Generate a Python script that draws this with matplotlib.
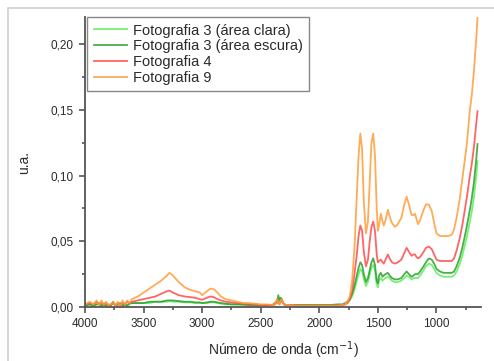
import numpy as np
import matplotlib
matplotlib.use('Agg')
import matplotlib.pyplot as plt
from matplotlib.patches import Rectangle
from matplotlib.ticker import MultipleLocator, FuncFormatter

plt.rcParams['font.family'] = ['Liberation Sans', 'DejaVu Sans']

# wavenumber grid (cm-1), shared by the four spectra
wavenumber = [4000, 3960, 3930, 3900, 3880, 3860, 3840, 3820, 3800, 3780,
              3760, 3740, 3720, 3700, 3680, 3660, 3640, 3620, 3600, 3550,
              3500, 3450, 3400, 3350, 3300, 3280, 3250, 3200, 3150, 3100,
              3060, 3020, 3000, 2960, 2930, 2900, 2870, 2840, 2800, 2750,
              2700, 2650, 2600, 2550, 2500, 2450, 2400, 2380, 2360, 2350,
              2340, 2330, 2320, 2310, 2300, 2280, 2250, 2200, 2100, 2000,
              1900, 1850, 1800, 1780, 1760, 1740, 1720, 1700, 1680, 1665,
              1650, 1635, 1620, 1602, 1585, 1570, 1555, 1540, 1525, 1510,
              1500, 1490, 1475, 1460, 1450, 1435, 1415, 1400, 1380, 1355,
              1330, 1300, 1275, 1255, 1235, 1213, 1195, 1184, 1170, 1158,
              1140, 1110, 1090, 1065, 1040, 1020, 1000, 970, 940, 900,
              870, 850, 828, 800, 780, 758, 740, 715, 700, 680,
              660, 650]

foto3_clara = [.001, .002, .001, .002, .002, .001, .002, .001, .001, .001,
               .003, .002, .001, .002, .001, .002, .001, .002, .003, .003,
               .003, .003, .004, .004, .004, .0045, .004, .004, .0035, .0035,
               .003, .003, .003, .003, .0035, .0035, .003, .0025, .002, .002,
               .002, .0015, .0015, .0015, .0015, .0015, .0015, .002, .003, .007,
               .004, .006, .005, .003, .002, .0015, .0015, .0015, .0015, .0015,
               .0015, .0015, .0015, .002, .003, .005, .008, .013, .020, .025,
               .029, .027, .021, .016, .019, .024, .030, .032, .028, .017,
               .015, .020, .022, .020, .021, .022, .023, .022, .020, .019,
               .019, .020, .022, .024, .023, .021, .022, .022, .022, .022,
               .024, .028, .031, .033, .032, .029, .026, .024, .023, .023,
               .023, .024, .027, .033, .039, .047, .054, .065, .072, .084,
               .100, .111]

foto3_escura = [.001, .002, .001, .002, .003, .001, .002, .001, .002, .001,
                .004, .001, .002, .003, .001, .002, .001, .003, .003, .003,
                .003, .004, .004, .004, .005, .005, .005, .0045, .004, .004,
                .0035, .0035, .003, .0035, .004, .004, .0035, .003, .0025, .002,
                .002, .002, .0015, .0015, .0015, .0015, .0015, .003, .004, .009,
                .005, .007, .006, .003, .002, .0015, .0015, .0015, .0015, .0015,
                .0015, .002, .002, .003, .004, .006, .010, .016, .024, .030,
                .034, .032, .025, .019, .022, .028, .034, .037, .032, .020,
                .018, .024, .026, .023, .024, .025, .026, .024, .022, .021,
                .021, .022, .025, .027, .025, .023, .024, .025, .025, .025,
                .027, .031, .034, .037, .036, .033, .029, .027, .026, .026,
                .026, .027, .031, .038, .045, .054, .062, .074, .082, .095,
                .113, .124]

foto4 = [.002, .003, .002, .004, .002, .003, .002, .003, .001, .002,
         .003, .001, .003, .001, .003, .002, .004, .003, .004, .005,
         .006, .007, .008, .010, .012, .0125, .011, .009, .008, .0075,
         .007, .006, .0055, .007, .008, .0075, .006, .005, .004, .0035,
         .003, .0025, .002, .002, .0015, .0015, .0015, .002, .005, .003,
         .002, .004, .005, .003, .002, .0015, .0015, .001, .001, .001,
         .001, .001, .0015, .002, .003, .006, .012, .025, .040, .054,
         .062, .058, .042, .031, .036, .050, .061, .065, .058, .040,
         .034, .035, .036, .034, .033, .036, .040, .037, .034, .033,
         .034, .036, .041, .045, .042, .039, .040, .040, .038, .037,
         .038, .042, .045, .046, .044, .040, .036, .035, .035, .035,
         .035, .037, .043, .053, .062, .074, .084, .100, .108, .122,
         .140, .149]

foto9 = [.002, .004, .002, .005, .001, .005, .002, .004, .001, .002,
         .004, .001, .004, .000, .005, .002, .005, .003, .006, .008,
         .011, .014, .017, .020, .024, .026, .024, .019, .015, .013,
         .012, .011, .009, .012, .014, .0135, .011, .008, .006, .005,
         .004, .003, .003, .0025, .002, .002, .0015, .002, .006, .003,
         .002, .005, .006, .003, .002, .0015, .0015, .001, .001, .001,
         .001, .001, .0015, .002, .004, .008, .020, .045, .085, .115,
         .132, .120, .080, .056, .065, .095, .125, .132, .115, .075,
         .058, .062, .071, .065, .062, .066, .074, .069, .064, .061,
         .063, .068, .078, .084, .078, .070, .070, .071, .067, .063,
         .066, .074, .078, .078, .073, .064, .056, .054, .054, .054,
         .055, .059, .068, .083, .097, .112, .125, .150, .160, .180,
         .205, .220]

labels = ['Fotografia 3 (área clara)', 'Fotografia 3 (área escura)',
          'Fotografia 4', 'Fotografia 9']
colors = ['#5cf05c', '#2e9e2e', '#ff4a4a', '#ff9c3a']

fig = plt.figure(figsize=(4.94, 3.61), dpi=100)
# light frame around the figure (cut at the right and bottom like the scan)
fig.patches.append(Rectangle((8 / 494, -0.05), 1.2, 0.05 + 353 / 361,
                             transform=fig.transFigure, fill=False,
                             edgecolor='#d0d0d0', linewidth=1.2))

ax = fig.add_axes([85 / 494, 1 - 307 / 361, 396 / 494, 290 / 361])
for ys, lab, col in zip([foto3_clara, foto3_escura, foto4, foto9], labels, colors):
    ax.plot(wavenumber, ys, color=col, linewidth=1.3, alpha=0.85, label=lab)

ax.set_xlim(4000, 620)
ax.set_ylim(0, 0.2207)
ax.spines['top'].set_visible(False)
ax.spines['right'].set_visible(False)
for s in ['left', 'bottom']:
    ax.spines[s].set_color('#555555')
    ax.spines[s].set_linewidth(1.3)

ax.xaxis.set_major_locator(MultipleLocator(500))
ax.xaxis.set_minor_locator(MultipleLocator(250))
ax.yaxis.set_major_locator(MultipleLocator(0.05))
ax.yaxis.set_minor_locator(MultipleLocator(0.025))
ax.yaxis.set_major_formatter(FuncFormatter(lambda v, p: f'{v:.2f}'.replace('.', ',')))
ax.tick_params(which='both', direction='out', color='#555555', width=1.2,
               labelsize=8.5, labelcolor='#2a2a2a')
ax.tick_params(which='major', length=4.5)
ax.tick_params(which='minor', length=2.5)

ax.set_xlabel('Número de onda (cm$^{-1}$)', fontsize=10, color='#2a2a2a', labelpad=7)
ax.set_ylabel('u.a.', fontsize=10, color='#2a2a2a', labelpad=14)

leg = ax.legend(loc='upper left', bbox_to_anchor=(0.006, 1.0), borderaxespad=0,
                fontsize=10.5, handlelength=2.3, handletextpad=0.35,
                labelspacing=0.12, fancybox=False, framealpha=1,
                borderpad=0.45)
leg.get_frame().set_edgecolor('#888888')
leg.get_frame().set_linewidth(1.0)
for t in leg.get_texts():
    t.set_color('#2a2a2a')

fig.savefig('out.png', dpi=100)
